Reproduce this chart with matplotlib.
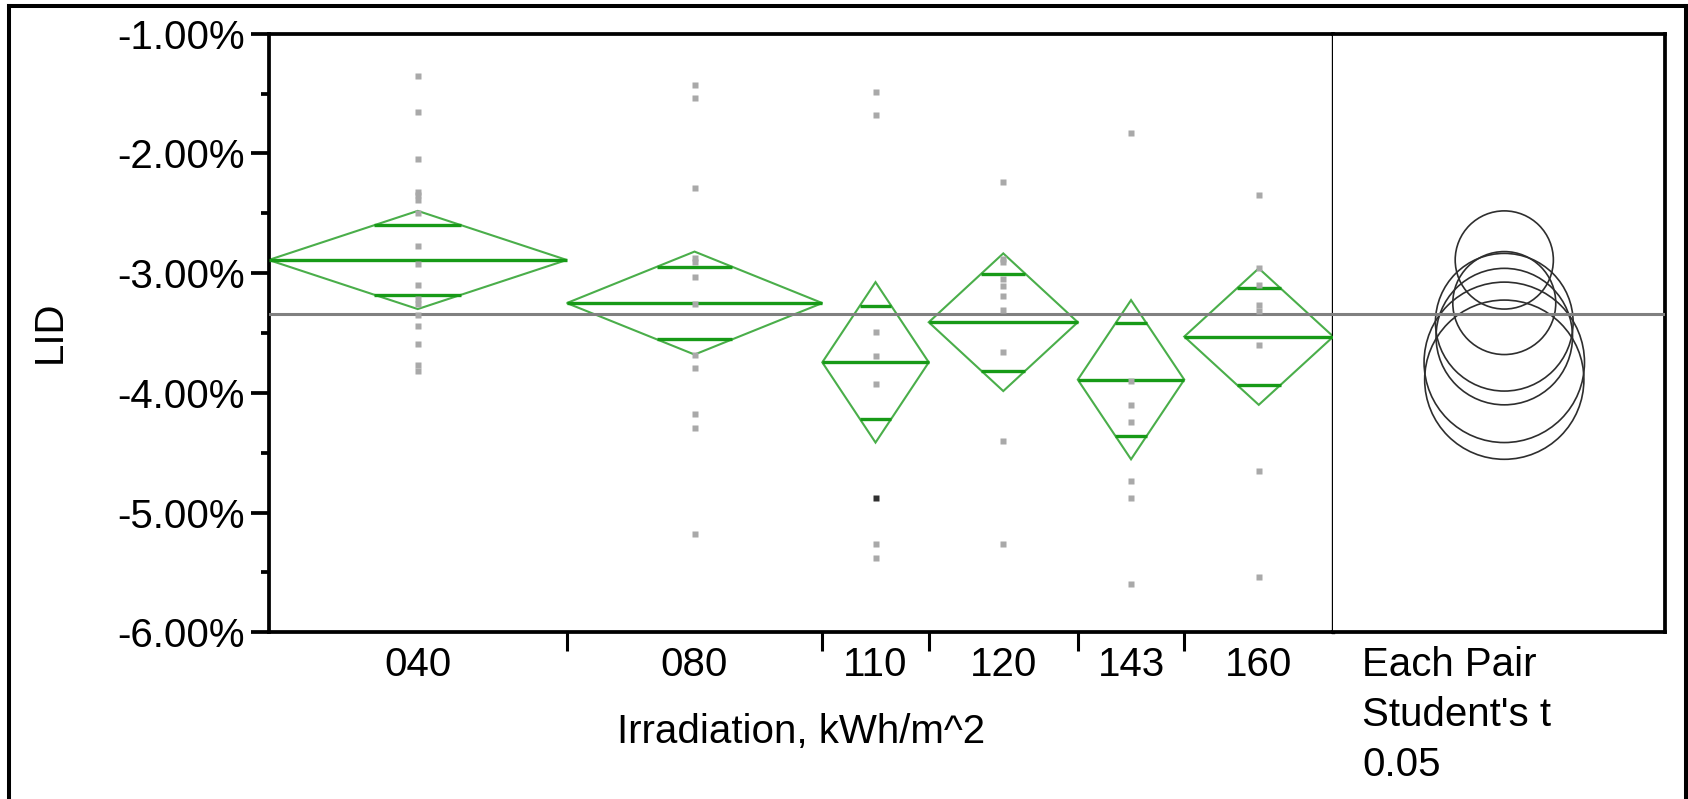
import numpy as np
import matplotlib
matplotlib.use("Agg")
import matplotlib.pyplot as plt
from matplotlib.patches import Polygon, Circle
from matplotlib.lines import Line2D

# groups (Irradiation, kWh/m^2) and their sample weights (diamond widths)
groups = ["040", "080", "110", "120", "143", "160"]
group_n = [14, 12, 5, 7, 5, 7]

# means diamonds: group mean and 95% CI half width (LID, %)
means = [-2.89, -3.25, -3.745, -3.41, -3.89, -3.53]
ci_half = [0.41, 0.43, 0.67, 0.575, 0.665, 0.57]
grand_mean = -3.34

# individual observations, LID in %
lid_040 = [-1.35, -1.65, -2.05, -2.32, -2.35, -2.39, -2.50, -2.77, -2.92,
           -3.10, -3.22, -3.26, -3.35, -3.44, -3.59, -3.77, -3.82]
lid_080 = [-1.43, -1.54, -2.29, -2.87, -2.91, -3.03, -3.26, -3.68, -3.79,
           -4.18, -4.29, -5.18]
lid_110 = [-1.49, -1.68, -3.49, -3.69, -3.93, -5.26, -5.38]
lid_120 = [-2.24, -2.88, -2.91, -3.05, -3.11, -3.19, -3.31, -3.66, -4.40, -5.26]
lid_143 = [-1.83, -3.90, -4.10, -4.24, -4.74, -4.88, -5.60]
lid_160 = [-2.35, -2.96, -3.10, -3.27, -3.32, -3.60, -4.65, -5.54]
points = [lid_040, lid_080, lid_110, lid_120, lid_143, lid_160]
# one selected (dark) row
sel_group = "110"
sel_value = -4.88

yticks = [-1, -2, -3, -4, -5, -6]
ytick_labels = ["-1.00%", "-2.00%", "-3.00%", "-4.00%", "-5.00%", "-6.00%"]

W, H = 1688, 799
plt.rcParams['font.family'] = ['Liberation Sans', 'DejaVu Sans']
plt.rcParams['font.size'] = 29
fig = plt.figure(figsize=(W / 100, H / 100), dpi=100)

def px(x, y):
    return x / W, 1 - y / H

left, right, top, bottom, pright = 268.7, 1333.3, 33.7, 632.3, 1665.3
ax = fig.add_axes([left / W, 1 - bottom / H, (right - left) / W, (bottom - top) / H])
ax2 = fig.add_axes([right / W, 1 - bottom / H, (pright - right) / W, (bottom - top) / H])

lw_sp = 2.7
for a in (ax, ax2):
    for s in a.spines.values():
        s.set_linewidth(lw_sp)
    a.set_ylim(-6, -1)

green_edge = "#4aae4a"
green_line = "#179a17"
gray_pts = "#a9a9a9"

edges = np.concatenate([[0], np.cumsum(group_n)])
centers = (edges[:-1] + edges[1:]) / 2
ax.set_xlim(0, edges[-1])

for i in range(len(groups)):
    x0, x1, xc = edges[i], edges[i + 1], centers[i]
    m, h = means[i], ci_half[i]
    ax.add_patch(Polygon([[x0, m], [xc, m + h], [x1, m], [xc, m - h]], closed=True,
                         fill=False, edgecolor=green_edge, lw=1.5, zorder=2))
    ax.plot([x0, x1], [m, m], color=green_line, lw=2.4, solid_capstyle="butt", zorder=3)
    half = (x1 - x0) / 2 * (1 - 1 / np.sqrt(2))
    for d in (h / np.sqrt(2), -h / np.sqrt(2)):
        ax.plot([xc - half, xc + half], [m + d, m + d], color=green_line, lw=2.4,
                solid_capstyle="butt", zorder=3)
    ax.plot([xc] * len(points[i]), points[i], ls="none", marker="s", ms=4.9,
            mfc=gray_pts, mec="none", zorder=5)

ax.plot([centers[groups.index(sel_group)]], [sel_value], ls="none", marker="s", ms=4.9,
        mfc="#303030", mec="none", zorder=6)

ax.axhline(grand_mean, color="#808080", lw=2.2, zorder=4)
ax2.axhline(grand_mean, color="#808080", lw=2.2, zorder=4)

# y axis
ax.set_yticks(yticks, ytick_labels)
ax.set_yticks(np.arange(-5.5, -1, 1.0), minor=True)
ax.tick_params(axis="y", which="major", length=13, width=lw_sp, pad=4.3)
ax.tick_params(axis="y", which="minor", length=5.8, width=lw_sp)

# x axis: labels at group centres, separators at group boundaries
ax.set_xticks(centers, groups)
ax.set_xticks(edges[1:-1], minor=True)
ax.tick_params(axis="x", which="major", length=0, pad=10)
ax.tick_params(axis="x", which="minor", length=13.7, width=2.2)
ax.spines["right"].set_linewidth(2.4)

# comparison circles panel
ax2.spines["left"].set_visible(False)
ax2.set_xticks([])
ax2.set_yticks([])
pw = (pright - right)
ph = (bottom - top)
xw = pw / ph * 5
cx = 0.515
ax2.set_xlim(-cx * xw, (1 - cx) * xw)
for m, h in zip(means, ci_half):
    ax2.add_patch(Circle((0, m), h, fill=False, edgecolor="#2e2e2e", lw=1.2, zorder=3))

# texts
fig.text(*px((left + right) / 2, 743), "Irradiation, kWh/m^2", ha="center", va="baseline")
fig.text(*px(1362, 676), "Each Pair", ha="left", va="baseline")
fig.text(*px(1362, 726), "Student's t", ha="left", va="baseline")
fig.text(*px(1362, 776), "0.05", ha="left", va="baseline")
fig.text(*px(50, 332), "LID", rotation=90, ha="center", va="center")

# outer frame
for xs, ys in [((9.3, 9.3), (6.3, 805)), ((9.3, 1685.5), (6.3, 6.3)), ((1685.5, 1685.5), (6.3, 805))]:
    fig.add_artist(Line2D([x / W for x in xs], [1 - y / H for y in ys], color="black",
                          lw=2.9, solid_capstyle="projecting"))

fig.savefig("out.png", dpi=100)
